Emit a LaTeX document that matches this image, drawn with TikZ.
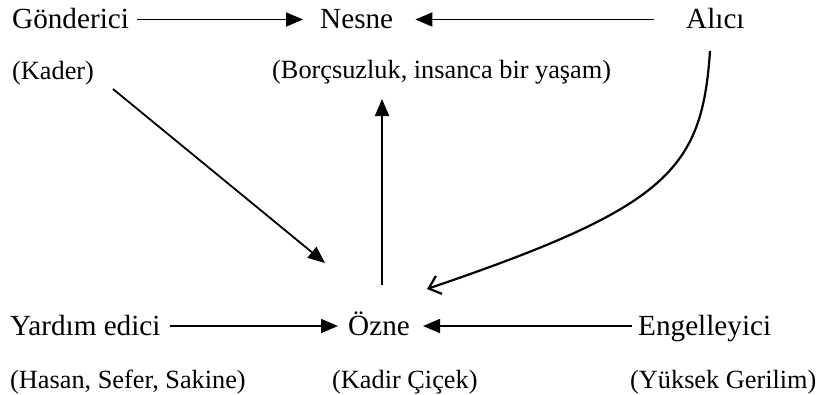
\documentclass[tikz,border=0pt]{standalone}
\usepackage{fontspec}
\setmainfont{Liberation Serif}
\usetikzlibrary{arrows.meta}
\tikzset{
  mainlbl/.style={anchor=base west, inner sep=0pt, font=\fontsize{29.2}{35}\selectfont, text height=25pt, text depth=7pt},
  parlbl/.style={anchor=base west, inner sep=0pt, font=\fontsize{26.3}{32}\selectfont},
  arr/.style={line width=1.8pt, -{Triangle[length=17pt,width=14pt]}},
  openarr/.style={line width=2.2pt, -{Straight Barb[length=11pt,width=19pt,line width=2.2pt]}}
}
\begin{document}
\begin{tikzpicture}[x=1pt,y=-1pt]
\useasboundingbox (0,0) rectangle (824,394);
% top row
\node[mainlbl] (gon) at (12,28.5) {Gönderici};
\node[mainlbl] (nes) at (320,28.5) {Nesne};
\node[mainlbl] (alc) at (686,28.5) {Alıcı};
\node[parlbl] (kad) at (12,79) {(Kader)};
\node[parlbl] (bor) at (272,78) {(Borçsuzluk, insanca bir yaşam)};
% bottom row
\node[mainlbl] (yar) at (10,335) {Yardım edici};
\node[mainlbl] (ozn) at (348,335) {Özne};
\node[mainlbl] (eng) at (638,335) {Engelleyici};
\node[parlbl] (has) at (10,388) {(Hasan, Sefer, Sakine)};
\node[parlbl] (kac) at (332,388) {(Kadir Çiçek)};
\node[parlbl] (yuk) at (630,388) {(Yüksek Gerilim)};
% free ends
\coordinate (dA) at (113,89);
\coordinate (dB) at (325,263);
\coordinate (vA) at (382,285);
\coordinate (vB) at (382,99);
\coordinate (cA) at (710,51);
\coordinate (cB) at (427,289);
% connectors
\draw[arr, shorten <=8pt, shorten >=17pt] (gon) -- (nes);
\draw[arr, shorten <=32pt, shorten >=22pt] (alc) -- (nes);
\draw[arr, shorten <=9pt, shorten >=10pt] (yar) -- (ozn);
\draw[arr, shorten <=6pt, shorten >=13pt] (eng) -- (ozn);
\draw[arr] (dA) -- (dB);
\draw[arr] (vA) -- (vB);
\draw[openarr] (cA) .. controls (702,170) and (668,207) .. (cB);
\end{tikzpicture}
\end{document}
